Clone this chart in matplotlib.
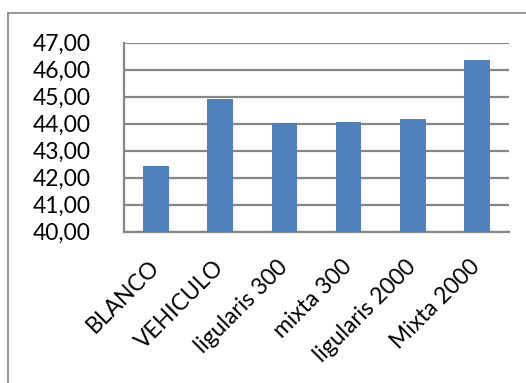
import numpy as np
import matplotlib.pyplot as plt
from matplotlib.lines import Line2D
from matplotlib.ticker import FuncFormatter

plt.rcParams['font.family'] = ['Lato', 'DejaVu Sans']

grupos = ['BLANCO', 'VEHICULO', 'ligularis 300', 'mixta 300', 'ligularis 2000', 'Mixta 2000']
valores = [42.43, 44.91, 44.01, 44.05, 44.17, 46.35]
yticks = [40, 41, 42, 43, 44, 45, 46, 47]

fig = plt.figure(figsize=(5.26, 3.83), dpi=100)
ax = fig.add_axes([0.2357, 0.395, 0.732, 0.4935])

x = np.arange(len(grupos))
ax.bar(x, valores, width=0.4, color='#4F81BD', zorder=3)

ax.set_xlim(-0.5, len(grupos) - 0.5)
ax.set_ylim(40, 47)
ax.set_yticks(yticks)
ax.yaxis.set_major_formatter(FuncFormatter(lambda v, p: f'{v:.2f}'.replace('.', ',')))
ax.grid(axis='y', color='#868686', linewidth=1.6, zorder=0)

ax.set_xticks(x)
ax.set_xticklabels(grupos, rotation=45, ha='right', va='center', rotation_mode='anchor')
ax.tick_params(axis='x', length=0, pad=23, labelsize=16.5)
ax.tick_params(axis='y', length=0, pad=24, labelsize=16.5)

for s in ['top', 'right']:
    ax.spines[s].set_visible(False)
for s in ['left', 'bottom']:
    ax.spines[s].set_color('#868686')
    ax.spines[s].set_linewidth(1.6)

# marco exterior (solo lados superior e izquierdo visibles)
W, H = 526, 383
fig.add_artist(Line2D([8 / W, 1], [1 - 13 / H, 1 - 13 / H], color='#8c8c8c', linewidth=1.3, transform=fig.transFigure))
fig.add_artist(Line2D([8 / W, 8 / W], [0, 1 - 13 / H], color='#8c8c8c', linewidth=1.3, transform=fig.transFigure))

fig.savefig('out.png', dpi=100)
